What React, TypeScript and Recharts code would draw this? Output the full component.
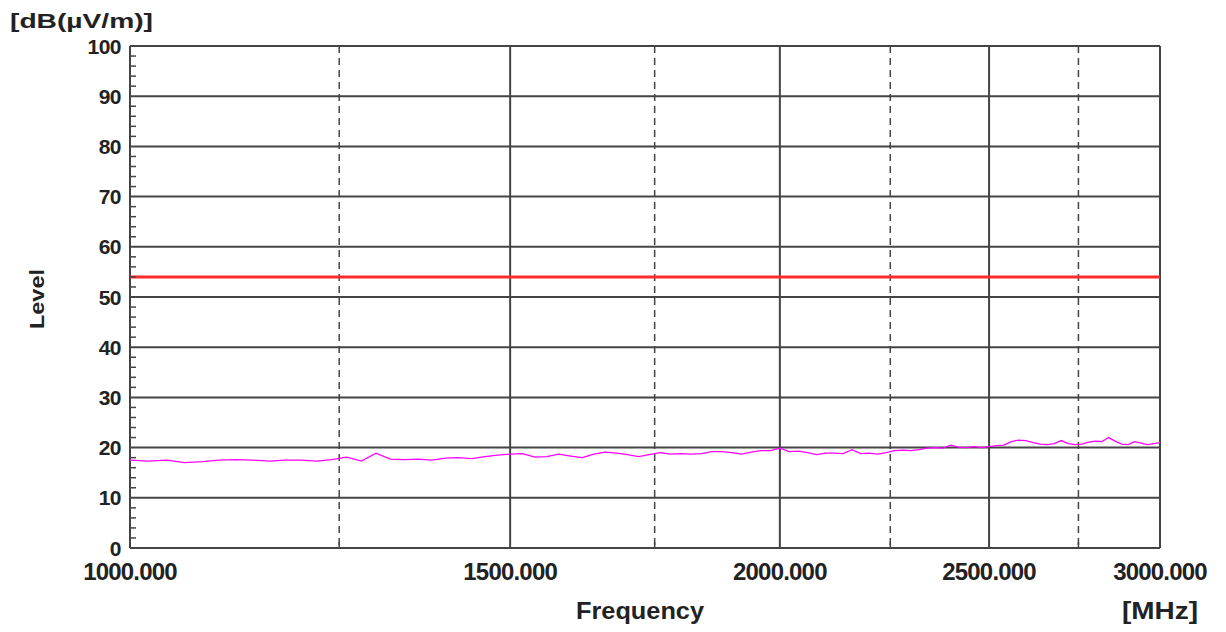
import React from 'react';
import { LineChart, Line, XAxis, YAxis, CartesianGrid } from 'recharts';

const FREQ_MHZ = [
  1000, 1020, 1040, 1060, 1080, 1100, 1120, 1140, 1160, 1180,
  1200, 1220, 1240, 1260, 1280, 1300, 1320, 1340, 1360, 1380,
  1400, 1420, 1440, 1460, 1480, 1500, 1520, 1540, 1560, 1580,
  1600, 1620, 1640, 1660, 1680, 1700, 1720, 1740, 1760, 1780,
  1800, 1820, 1840, 1860, 1880, 1900, 1920, 1940, 1960, 1980,
  2000, 2020, 2040, 2060, 2080, 2100, 2120, 2140, 2160, 2180,
  2200, 2220, 2240, 2260, 2280, 2300, 2320, 2340, 2360, 2380,
  2400, 2420, 2440, 2460, 2480, 2500, 2520, 2540, 2560, 2580,
  2600, 2620, 2640, 2660, 2680, 2700, 2720, 2740, 2760, 2780,
  2800, 2820, 2840, 2860, 2880, 2900, 2920, 2940, 2960, 2980,
  3000,
];

const LEVEL_DBUV = [
  17.5, 17.3, 17.5, 17.0, 17.2, 17.5, 17.6, 17.5, 17.3, 17.5,
  17.5, 17.3, 17.6, 18.1, 17.3, 18.9, 17.7, 17.6, 17.7, 17.5,
  17.9, 18.0, 17.8, 18.2, 18.5, 18.7, 18.8, 18.1, 18.2, 18.7,
  18.3, 18.0, 18.7, 19.1, 18.9, 18.6, 18.2, 18.6, 19.0, 18.7,
  18.8, 18.7, 18.8, 19.2, 19.2, 19.0, 18.7, 19.1, 19.4, 19.4,
  19.9, 19.2, 19.3, 19.0, 18.6, 18.9, 18.9, 18.8, 19.6, 18.8,
  18.9, 18.7, 19.0, 19.4, 19.5, 19.4, 19.6, 19.9, 20.0, 19.9,
  20.5, 20.1, 20.0, 20.2, 20.0, 20.2, 20.4, 20.5, 21.2, 21.5,
  21.4, 21.0, 20.7, 20.6, 20.8, 21.4, 20.8, 20.6, 20.7, 21.1,
  21.3, 21.2, 22.0, 21.3, 20.7, 20.6, 21.2, 20.9, 20.6, 20.8,
  21.0,
];

const LIMIT_DBUV = 54;

const Y_TICKS = [
  0, 2, 4, 6, 8, 10, 12, 14, 16, 18, 20, 22, 24, 26, 28, 30, 32, 34, 36, 38,
  40, 42, 44, 46, 48, 50, 52, 54, 56, 58, 60, 62, 64, 66, 68, 70, 72, 74, 76, 78,
  80, 82, 84, 86, 88, 90, 92, 94, 96, 98, 100,
];
const Y_LABELS = [0, 10, 20, 30, 40, 50, 60, 70, 80, 90, 100];
const X_TICKS = [1000, 1250, 1500, 1750, 2000, 2250, 2500, 2750, 3000];
const X_LABELS = [1000, 1500, 2000, 2500, 3000];
const X_SOLID = [1000, 1500, 2000, 2500, 3000];
const X_DASHED = [1250, 1750, 2250, 2750];

const data = FREQ_MHZ.map((f, i) => ({ f, level: LEVEL_DBUV[i], limit: LIMIT_DBUV }));

const FONT = '"Liberation Sans", Arial, sans-serif';
const INK = '#222';
const GRID = '#444';

const YTick = (props: any) => {
  const { x, y, payload } = props;
  const v = payload.value;
  const isLabel = Y_LABELS.includes(v);
  return (
    <g>
      {!isLabel && <line x1={x} x2={x + 6} y1={y} y2={y} stroke={GRID} strokeWidth={1.5} />}
      {isLabel && (
        <text x={x - 9} y={y + 7.5} textAnchor="end" fontSize={21} fontWeight="bold" fontFamily={FONT} fill={INK} letterSpacing={-0.5}>
          {v}
        </text>
      )}
    </g>
  );
};

const XTick = (props: any) => {
  const { x, y, payload } = props;
  const v = payload.value;
  const isLabel = X_LABELS.includes(v);
  return (
    <g>
      {X_DASHED.includes(v) && <line x1={x} x2={x} y1={y} y2={y - 6} stroke={GRID} strokeWidth={1.5} />}
      {isLabel && (
        <text x={x} y={y + 32} textAnchor="middle" fontSize={24} fontWeight="bold" fontFamily={FONT} fill={INK} letterSpacing={-0.8}>
          {v.toFixed(3)}
        </text>
      )}
    </g>
  );
};

export default function App() {
  return (
    <div style={{ position: 'absolute', left: 0, top: 0, width: 1226, height: 632, background: '#fff' }}>
      <LineChart width={1226} height={632} data={data} margin={{ top: 46, right: 66, bottom: 54, left: 0 }}>
        <CartesianGrid
          horizontalValues={Y_LABELS}
          verticalValues={X_SOLID}
          stroke={GRID}
          strokeWidth={2}
          fill="none"
        />
        <CartesianGrid
          horizontal={false}
          verticalValues={X_DASHED}
          stroke={GRID}
          strokeWidth={1.5}
          strokeDasharray="7 5"
          fill="none"
        />
        <XAxis
          dataKey="f"
          type="number"
          scale="log"
          domain={[1000, 3000]}
          ticks={X_TICKS}
          interval={0}
          allowDataOverflow
          height={30}
          tickSize={0}
          tickMargin={0}
          axisLine={false}
          tickLine={false}
          tick={<XTick />}
        />
        <YAxis
          type="number"
          domain={[0, 100]}
          ticks={Y_TICKS}
          interval={0}
          width={130}
          tickSize={0}
          tickMargin={0}
          axisLine={false}
          tickLine={false}
          tick={<YTick />}
        />
        <Line dataKey="limit" stroke="#ff2a2a" strokeWidth={3} dot={false} isAnimationActive={false} />
        <Line dataKey="level" stroke="#ff00ff" strokeWidth={1.3} dot={false} isAnimationActive={false} />
        <text x={10} y={28} fontSize={21} fontWeight="bold" fontFamily={FONT} fill={INK} textLength={143} lengthAdjust="spacingAndGlyphs">
          [dB(µV/m)]
        </text>
        <text x={0} y={0} transform="translate(44,299) rotate(-90)" textAnchor="middle" fontSize={20} fontWeight="bold" fontFamily={FONT} fill={INK} textLength={60} lengthAdjust="spacingAndGlyphs">
          Level
        </text>
        <text x={640} y={619} textAnchor="middle" fontSize={23} fontWeight="bold" fontFamily={FONT} fill={INK} textLength={128} lengthAdjust="spacingAndGlyphs">
          Frequency
        </text>
        <text x={1160} y={619} textAnchor="middle" fontSize={24} fontWeight="bold" fontFamily={FONT} fill={INK} textLength={76} lengthAdjust="spacingAndGlyphs">
          [MHz]
        </text>
      </LineChart>
    </div>
  );
}
